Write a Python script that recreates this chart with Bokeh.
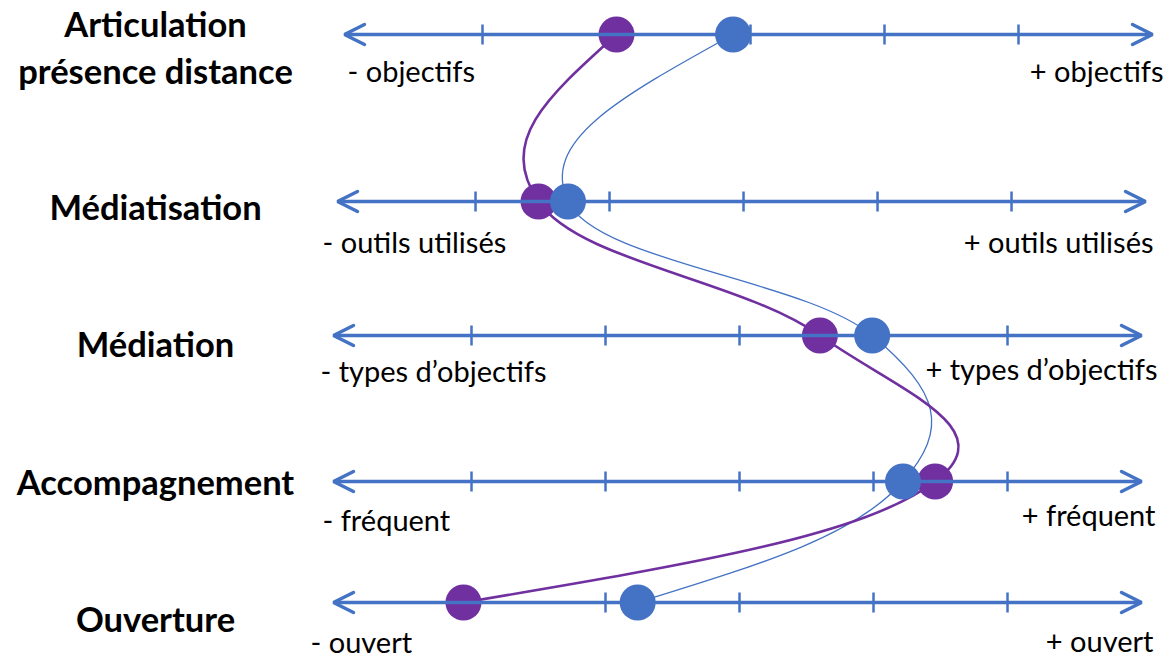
import numpy as np
from bokeh.plotting import figure
from bokeh.models import Range1d, Arrow, OpenHead
from bokeh.core.properties import value
from bokeh.embed import file_html
from bokeh.resources import INLINE

# ---------------- data ----------------
dimensions = ["Articulation\nprésence distance", "Médiatisation", "Médiation",
              "Accompagnement", "Ouverture"]
low_labels = ["- objectifs", "- outils utilisés", "- types d’objectifs",
              "- fréquent", "- ouvert"]
high_labels = ["+ objectifs", "+ outils utilisés", "+ types d’objectifs",
               "+ fréquent", "+ ouvert"]
tick_values = [1, 2, 3, 4, 5]
axis_min, axis_max = -0.03, 6.0
purple_values = [2.0, 1.47, 3.60, 4.46, 0.94]
blue_values = [2.87, 1.69, 3.99, 4.22, 2.24]

# ---------------- layout / style ----------------
W, H = 1171, 660
PX_PER_UNIT = 134.0
X_START = -2.515
X_END = X_START + W / PX_PER_UNIT
row_y = [34, 201, 335, 481, 602]               # page pixels
row_shift = [0.082, 0.03, 0.0, 0.0, 0.0]        # small offset of each scale
cat_x_px = 155
cat_baselines = [[23, 70], [206], [343], [481], [618]]
low_x_px = [347, 322, 320, 322, 310]
low_base = [70, 241, 370, 519, 641]
high_x_px = [1163, 1153, 1157, 1155, 1153]
high_base = [70, 241, 368, 514, 640]

BLUE = "#4472C4"
PURPLE = "#7030A0"
FONT = "Lato"


def px_to_x(px):
    return px / PX_PER_UNIT + X_START


p = figure(width=W, height=H, output_backend="svg", toolbar_location=None,
           x_range=Range1d(X_START, X_END), y_range=Range1d(H, 0),
           min_border=0, outline_line_color=None)
p.axis.visible = False
p.grid.visible = False
p.background_fill_color = "white"
p.border_fill_color = "white"

# axes with double arrows and ticks
tx, ty0, ty1 = [], [], []
for i in range(len(dimensions)):
    y = row_y[i]
    s = row_shift[i]
    p.add_layout(Arrow(
        start=OpenHead(size=20, line_width=3.5, line_color=BLUE, line_cap="round"),
        end=OpenHead(size=20, line_width=3.5, line_color=BLUE, line_cap="round"),
        x_start=axis_min + s, y_start=y, x_end=axis_max + s, y_end=y,
        line_color=BLUE, line_width=3.5))
    for t in tick_values:
        tx.append(t + s)
        ty0.append(y - 10)
        ty1.append(y + 10)
p.segment(x0=tx, y0=ty0, x1=tx, y1=ty1, line_color=BLUE, line_width=2.5)


def smooth(xs, ys, f=0.2, g=0.6):
    P = np.column_stack([xs, ys]).astype(float)
    n = len(P)
    oc = np.zeros_like(P)
    ic = np.zeros_like(P)
    for i in range(1, n - 1):
        d = (P[i + 1] - P[i - 1]) * f
        oc[i] = P[i] + d
        ic[i] = P[i] - d
    oc[0] = P[0] + (ic[1] - P[0]) * g
    ic[n - 1] = P[n - 1] + (oc[n - 2] - P[n - 1]) * g
    return dict(x0=P[:-1, 0], y0=P[:-1, 1], x1=P[1:, 0], y1=P[1:, 1],
                cx0=oc[:-1, 0], cy0=oc[:-1, 1], cx1=ic[1:, 0], cy1=ic[1:, 1])


bx = [v + s for v, s in zip(blue_values, row_shift)]
pxv = [v + s for v, s in zip(purple_values, row_shift)]

p.bezier(**smooth(bx, row_y), line_color=BLUE, line_width=1.3)
p.bezier(**smooth(pxv, row_y), line_color=PURPLE, line_width=2.6)

p.scatter(pxv, row_y, size=36, fill_color=PURPLE, line_color=None)
p.scatter(bx, row_y, size=36, fill_color=BLUE, line_color=None)

# category labels
cx, cy, ct = [], [], []
for name, bases in zip(dimensions, cat_baselines):
    for line, b in zip(name.split("\n"), bases):
        cx.append(px_to_x(cat_x_px))
        cy.append(b)
        ct.append(line)
p.text(x=cx, y=cy, text=ct, text_font=value(FONT), text_font_style="bold",
       text_font_size="34.5px", text_align="center", text_baseline="alphabetic",
       text_color="black")

# low / high labels
p.text(x=[px_to_x(v) for v in low_x_px], y=low_base, text=low_labels,
       text_font=value(FONT), text_font_size="29px", text_align="left",
       text_baseline="alphabetic", text_color="black")
p.text(x=[px_to_x(v) for v in high_x_px], y=high_base, text=high_labels,
       text_font=value(FONT), text_font_size="29px", text_align="right",
       text_baseline="alphabetic", text_color="black")

open("out.html", "w").write(file_html(p, INLINE))
